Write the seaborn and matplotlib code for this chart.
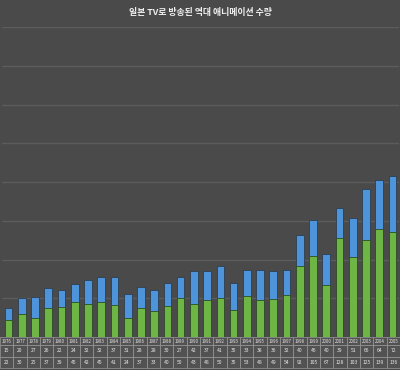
import matplotlib
matplotlib.use("Agg")
import matplotlib.pyplot as plt
import seaborn as sns
import pandas as pd

years = list(range(1976, 2006))
blue_vals = [15, 20, 27, 26, 22, 24, 32, 32, 37, 31,
             28, 28, 30, 27, 42, 37, 41, 35, 33, 38,
             36, 32, 40, 46, 40, 39, 51, 66, 64, 72]
green_vals = [22, 30, 25, 37, 39, 45, 42, 45, 41, 24,
              37, 33, 40, 50, 43, 48, 50, 35, 53, 48,
              49, 54, 92, 105, 67, 128, 103, 125, 139, 136]
title = "일본 TV로 방송된 역대 애니메이션 수량"

sns.set_theme(style="dark")
plt.rcParams['font.family'] = ['Noto Sans CJK KR', 'DejaVu Sans']

df = pd.DataFrame({"year": [str(y) for y in years],
                   "green": green_vals,
                   "total": [b + g for b, g in zip(blue_vals, green_vals)]})

bg = "#4a4a4a"
fig = plt.figure(figsize=(4.0, 3.7), dpi=100, facecolor=bg)
ax = fig.add_axes([2 / 400, 33 / 370, 397 / 400, 310 / 370])
ax.set_facecolor(bg)

sns.barplot(data=df, x="year", y="total", color="#4d94da", width=0.58,
            saturation=1, edgecolor="#2c3e50", linewidth=0.6, ax=ax, zorder=3)
sns.barplot(data=df, x="year", y="green", color="#6db544", width=0.58,
            saturation=1, edgecolor="#2f4a22", linewidth=0.6, ax=ax, zorder=4)

ax.set_ylim(0, 400)
ax.set_xlim(-0.5, len(years) - 0.5)
ax.set_yticks(range(50, 401, 50))
ax.yaxis.grid(True, color="#5c5c5c", linewidth=1.0, zorder=0)
ax.xaxis.grid(False)
ax.set_xlabel("")
ax.set_ylabel("")
ax.tick_params(axis="both", length=0, labelleft=False, labelbottom=False)
for s in ax.spines.values():
    s.set_visible(False)

fig.text(0.5, 1 - 12 / 370, title, ha="center", va="center",
         color="#f0f0f0", fontsize=6.4, fontweight="bold")

tab = ax.table(cellText=[[str(v) for v in blue_vals], [str(v) for v in green_vals]],
               colLabels=[str(y) for y in years],
               bbox=[-2 / 397, -31 / 310, 400 / 397, 31 / 310],
               cellLoc="center")
tab.auto_set_font_size(False)
for (r, c), cell in tab.get_celld().items():
    cell.set_edgecolor("#9a9a9a")
    cell.set_linewidth(0.5)
    cell.set_facecolor("#525252")
    cell.get_text().set_color("#e6e6e6")
    cell.get_text().set_fontsize(3.2 if r == 0 else 3.6)
    cell.PAD = 0.02
    if r == 0:
        cell.set_height(0.8)
    else:
        cell.set_height(1.1)

fig.savefig("out.png", dpi=100, facecolor=bg)
